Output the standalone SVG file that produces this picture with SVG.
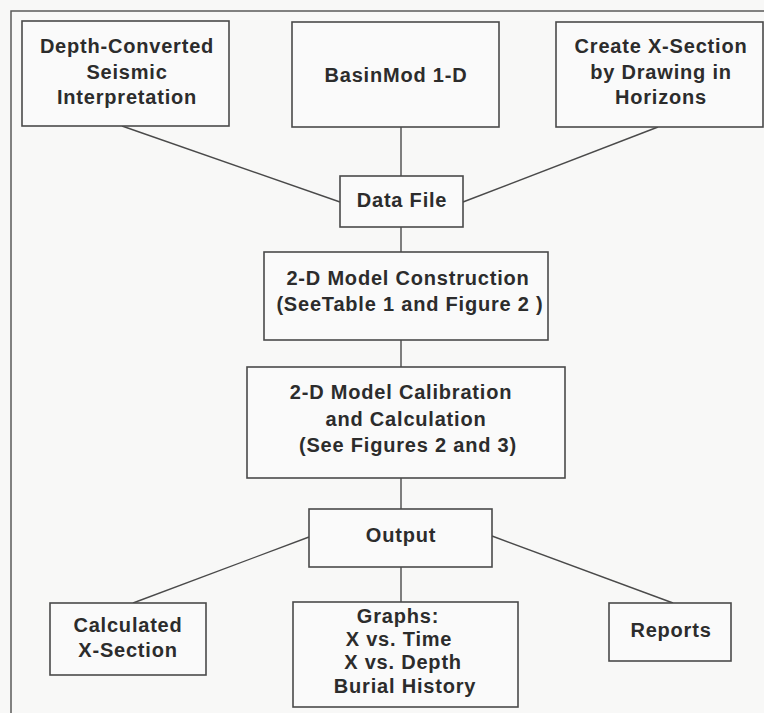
<svg xmlns="http://www.w3.org/2000/svg" width="764" height="713" viewBox="0 0 764 713">
  <style>
    .bg { fill: #f8f8f7; }
    .frame { fill: none; stroke: #5a5a5a; stroke-width: 1.5; }
    .box { fill: #fafafa; stroke: #4a4a4a; stroke-width: 1.6; }
    .edge { fill: none; stroke: #4a4a4a; stroke-width: 1.4; }
    .lbl { font-family: "Liberation Sans", Arial, sans-serif; font-size: 20px; font-weight: bold;
           fill: #2c2c2c; text-anchor: middle; letter-spacing: 0.8px; }
  </style>

  <rect class="bg" x="0" y="0" width="764" height="713"/>
  <!-- outer frame, running off the right and bottom edges -->
  <rect class="frame" x="11" y="11" width="800" height="760"/>

  <!-- connectors -->
  <g id="connectors">
    <line class="edge" x1="122" y1="126" x2="340" y2="202"/>
    <line class="edge" x1="401" y1="127" x2="401" y2="176"/>
    <line class="edge" x1="658" y1="127" x2="463" y2="202"/>
    <line class="edge" x1="401" y1="227" x2="401" y2="252"/>
    <line class="edge" x1="401" y1="340" x2="401" y2="367"/>
    <line class="edge" x1="401" y1="478" x2="401" y2="509"/>
    <line class="edge" x1="309" y1="537" x2="133" y2="603"/>
    <line class="edge" x1="492" y1="536" x2="673" y2="603"/>
    <line class="edge" x1="401" y1="567" x2="401" y2="602"/>
  </g>

  <g id="depth-converted">
    <rect class="box" x="22" y="21" width="207" height="105"/>
    <text class="lbl" x="127" y="53">Depth-Converted</text>
    <text class="lbl" x="127" y="79">Seismic</text>
    <text class="lbl" x="127" y="104">Interpretation</text>
  </g>

  <g id="basinmod">
    <rect class="box" x="292" y="22" width="207" height="105"/>
    <text class="lbl" x="396" y="82">BasinMod 1-D</text>
  </g>

  <g id="create-xsection">
    <rect class="box" x="556" y="22" width="207" height="105"/>
    <text class="lbl" x="661" y="53">Create X-Section</text>
    <text class="lbl" x="661" y="79">by Drawing in</text>
    <text class="lbl" x="661" y="104">Horizons</text>
  </g>

  <g id="data-file">
    <rect class="box" x="340" y="176" width="123" height="51"/>
    <text class="lbl" x="402" y="207">Data File</text>
  </g>

  <g id="model-construction">
    <rect class="box" x="264" y="252" width="284" height="88"/>
    <text class="lbl" x="408" y="285">2-D Model Construction</text>
    <text class="lbl" x="410" y="311">(SeeTable 1 and Figure 2 )</text>
  </g>

  <g id="model-calibration">
    <rect class="box" x="247" y="367" width="318" height="111"/>
    <text class="lbl" x="401" y="399">2-D Model Calibration</text>
    <text class="lbl" x="406" y="426">and Calculation</text>
    <text class="lbl" x="408" y="452">(See Figures 2 and 3)</text>
  </g>

  <g id="output">
    <rect class="box" x="309" y="509" width="183" height="58"/>
    <text class="lbl" x="401" y="542">Output</text>
  </g>

  <g id="calculated-xsection">
    <rect class="box" x="50" y="603" width="156" height="72"/>
    <text class="lbl" x="128" y="632">Calculated</text>
    <text class="lbl" x="128" y="657">X-Section</text>
  </g>

  <g id="graphs">
    <rect class="box" x="293" y="602" width="225" height="105"/>
    <text class="lbl" x="398" y="623">Graphs:</text>
    <text class="lbl" x="399" y="646">X vs. Time</text>
    <text class="lbl" x="403" y="669">X vs. Depth</text>
    <text class="lbl" x="405" y="693">Burial History</text>
  </g>

  <g id="reports">
    <rect class="box" x="609" y="603" width="122" height="58"/>
    <text class="lbl" x="671" y="637">Reports</text>
  </g>
</svg>
